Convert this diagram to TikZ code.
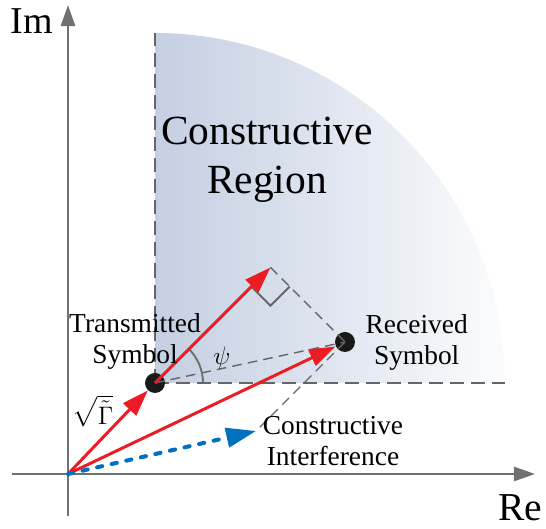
\documentclass[tikz,border=0pt]{standalone}
\usepackage{fontspec}
\setmainfont{Liberation Serif}
\usepackage{amsmath}
\usetikzlibrary{
    arrows.meta,
    positioning,
    calc
}
\definecolor{sigred}{RGB}{237,28,36}
\definecolor{sigblue}{RGB}{0,112,192}
\definecolor{regionblue}{RGB}{196,207,226}
\definecolor{guidegray}{RGB}{102,102,102}
\definecolor{axisgray}{RGB}{112,112,112}
\tikzstyle{axisline} = [
    draw=axisgray,
    line width=1.4pt,
    -{Triangle[length=12pt,width=8pt]}
]
\tikzstyle{border} = [
    draw=guidegray,
    line width=1.4pt,
    dash pattern=on 8pt off 4pt
]
\tikzstyle{guide} = [
    draw=guidegray,
    line width=0.8pt,
    dash pattern=on 5.5pt off 3.5pt
]
\tikzstyle{vector} = [
    draw=sigred,
    line width=1.7pt,
    -{Triangle[length=15pt,width=10pt]}
]
\tikzstyle{interference} = [
    draw=sigblue,
    line width=2.3pt,
    line cap=round,
    dash pattern=on 3pt off 5.5pt,
    -{Triangle[length=17pt,width=11pt,line cap=butt]}
]
\tikzstyle{symbol} = [
    circle,
    fill=black!90,
    minimum size=0.4cm,
    inner sep=0pt
]
\tikzstyle{tag} = [
    align=center,
    inner sep=0pt,
    font=\fontsize{15.6}{17.6}\selectfont
]

\begin{document}
\begin{tikzpicture}[x=0.2cm, y=0.2cm]
        \useasboundingbox (-6.8,-5.5) rectangle (47.8,47.4);

        \coordinate (O) at (0,0);
        \coordinate (tx) at (8.7,9.1);
        \coordinate (rx) at (27.7,13.2);
        \coordinate (dir) at ($(tx)+(45:10)$);
        \coordinate (P) at ($(tx)!(rx)!(dir)$);
        \coordinate (B) at ($(rx)+(-8.9,-8.9)$);

        % constructive region
        \shade[left color=regionblue, right color=regionblue!6]
            (tx) -- ++(0,35) arc[start angle=90, end angle=0, radius=35] -- cycle;
        \draw[border] (tx) -- ++(0,35);
        \draw[border] (tx) -- ++(35,0);

        % axes
        \coordinate (xs) at (-5.6,0);
        \coordinate (xe) at (46.7,0);
        \coordinate (ys) at (0,-4.2);
        \coordinate (ye) at (0,46.9);
        \draw[axisline] (xs) -- (xe);
        \draw[axisline] (ys) -- (ye);
        \node[font=\fontsize{21.6}{24}\selectfont, inner sep=0pt] (im) at (-3.6,45.3) {Im};
        \node[font=\fontsize{22.5}{24}\selectfont, inner sep=0pt] (re) at (45.2,-3.4) {Re};

        \node[symbol] (T) at (tx) {};
        \node[symbol] (R) at (rx) {};

        % geometry guides
        \draw[guide] (T.center) -- (R.center);
        \draw[guide] (P) -- (R.center);
        \draw[guide] (R.center) -- (B);
        \draw[axisgray, line width=1.1pt] ($(tx)+(4.8,0)$) arc[start angle=0, end angle=45, radius=4.8];
        \draw[guidegray, line width=1.1pt] (P) ++(-135:2.7) -- ++(-45:2.7) -- ++(45:2.7);

        % vectors
        \draw[vector] (O) -- (T);
        \draw[vector] (T.center) -- (P);
        \draw[vector] (O) -- (R);
        \draw[interference] (O) -- (B);

        % labels
        \node[align=center, inner sep=0pt, font=\fontsize{23.6}{27.9}\selectfont] (region) at (19.9,31.4) {Constructive\\Region};
        \node[tag] (tlabel) at (6.7,13.3) {Transmitted\\Symbol};
        \node[tag, right=0.2cm of R] (rlabel) {Received\\Symbol};
        \node[tag] (clabel) at (26.5,3.3) {Constructive\\Interference};
        \node[inner sep=0pt, font=\fontsize{15.6}{17.6}\selectfont] (gain) at (2.5,6.3) {$\sqrt{\tilde{\Gamma}}$};
        \node[inner sep=0pt, font=\fontsize{15.6}{17.6}\selectfont] (psi) at (15.4,11.6) {$\psi$};
    \end{tikzpicture}
\end{document}
